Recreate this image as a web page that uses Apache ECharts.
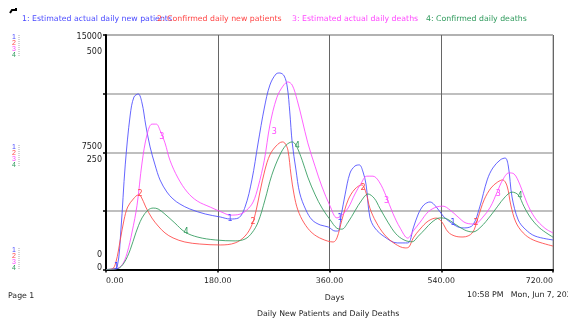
<!DOCTYPE html>
<html>
<head>
<meta charset="utf-8">
<script src="https://cdn.jsdelivr.net/npm/echarts@6/dist/echarts.min.js"></script>
<style>
html, body { margin: 0; padding: 0; background: #fff; }
#chart { width: 568px; height: 320px; }
</style>
</head>
<body>
<div id="chart"></div>
<script>
// series names (legend order)
const seriesNames = [
    "Estimated actual daily new patients",
    "Confirmed daily new patients",
    "Estimated actual daily deaths",
    "Confirmed daily deaths"
];
const colors = ["#4a4aff", "#ff4545", "#ff47ff", "#2f9a5c"];

// x ticks
const dayTicks = [0, 180, 360, 540, 720];
// y labels: patients axis and deaths axis
const patientTicks = [0, 7500, 15000];
const deathTicks = [0, 250, 500];

// 1: Estimated actual daily new patients
const estPatientsDays = [0, 10, 18, 24, 31, 39, 45, 52, 58, 64, 71, 79, 87, 98, 108, 119, 135, 160, 184, 200, 213, 224, 235, 245, 255, 264, 274, 280, 287, 292, 296, 300, 306, 312, 322, 332, 345, 358, 369, 374, 379, 385, 393, 401, 408, 414, 419, 425, 433, 449, 469, 486, 495, 503, 512, 522, 532, 543, 554, 567, 578, 591, 602, 614, 623, 635, 643, 648, 654, 664, 675, 691, 720];
const estPatients = [0, 30, 160, 2530, 6690, 9880, 11030, 11230, 10650, 9240, 7840, 6690, 5730, 4960, 4510, 4190, 3870, 3550, 3360, 3230, 3290, 4000, 5730, 8090, 10330, 11800, 12510, 12570, 12380, 11670, 10080, 8090, 6370, 4890, 3810, 3170, 2850, 2720, 2460, 2460, 3490, 4770, 6170, 6620, 6690, 6240, 5410, 3360, 2660, 2080, 1700, 1700, 2660, 3550, 4130, 4320, 4000, 3420, 3040, 2720, 2660, 2850, 4000, 5730, 6490, 7010, 7130, 6620, 4640, 3170, 2590, 2140, 1890];

// 2: Confirmed daily new patients
const confPatientsDays = [0, 10, 16, 23, 29, 35, 44, 52, 56, 64, 74, 84, 95, 108, 127, 151, 184, 208, 224, 235, 242, 248, 256, 264, 274, 284, 288, 293, 298, 303, 309, 319, 332, 348, 366, 372, 380, 390, 401, 412, 419, 425, 435, 449, 466, 482, 488, 495, 506, 519, 532, 541, 551, 562, 575, 590, 599, 609, 620, 631, 639, 646, 652, 660, 672, 688, 720];
const confPatients = [0, 30, 480, 1890, 3170, 4000, 4510, 4770, 4700, 4000, 3290, 2780, 2340, 2020, 1760, 1630, 1570, 1700, 2140, 2850, 3810, 4960, 6370, 7330, 7900, 8160, 8090, 7640, 6050, 4770, 3810, 2980, 2340, 1950, 1760, 2020, 3170, 4450, 5150, 5410, 4890, 3930, 3040, 2210, 1630, 1380, 1440, 2020, 2590, 3100, 3290, 3040, 2400, 2140, 2080, 2340, 3290, 4450, 5210, 5600, 5730, 5340, 4130, 3040, 2340, 1890, 1500];

// 3: Estimated actual daily deaths
const estDeathsDays = [0, 15, 26, 34, 42, 50, 58, 66, 74, 81, 87, 95, 103, 116, 131, 147, 168, 187, 200, 216, 227, 237, 245, 255, 264, 275, 285, 293, 300, 308, 316, 325, 337, 348, 361, 372, 380, 390, 401, 411, 420, 430, 440, 451, 462, 474, 486, 496, 506, 519, 532, 543, 554, 567, 580, 594, 606, 619, 630, 639, 649, 657, 667, 678, 691, 707, 720];
const estDeaths = [0, 1, 10, 35, 80, 137, 227, 287, 310, 310, 297, 270, 233, 195, 165, 146, 133, 122, 116, 118, 127, 144, 176, 233, 308, 366, 391, 400, 393, 361, 319, 270, 219, 176, 135, 110, 116, 131, 161, 184, 199, 199, 187, 157, 120, 88, 67, 84, 101, 123, 133, 135, 127, 112, 99, 97, 110, 133, 165, 191, 206, 204, 180, 142, 110, 88, 78];

// 4: Confirmed daily deaths
const confDeathsDays = [0, 19, 29, 39, 48, 58, 68, 76, 84, 95, 111, 127, 148, 176, 208, 224, 235, 245, 256, 267, 280, 290, 300, 306, 316, 325, 337, 348, 361, 372, 380, 390, 401, 412, 422, 432, 441, 454, 467, 480, 493, 503, 514, 525, 538, 549, 562, 578, 591, 604, 619, 631, 643, 654, 664, 673, 683, 699, 720];
const confDeaths = [0, 2, 14, 42, 78, 110, 127, 131, 129, 118, 99, 80, 69, 63, 61, 65, 78, 101, 148, 201, 244, 265, 272, 265, 233, 197, 159, 131, 106, 88, 86, 101, 125, 148, 161, 152, 131, 101, 76, 63, 59, 71, 86, 101, 110, 108, 97, 84, 80, 91, 114, 135, 155, 165, 159, 135, 112, 88, 69];

// curve number tags, [day, value]
const estPatientsTags = [[17, 150], [200, 3230], [377, 3290], [559, 2980]];
const confPatientsTags = [[55, 4830], [237, 3040], [414, 5200], [596, 3000]];
const estDeathsTags = [[90, 282], [271, 294], [452, 146], [632, 161]];
const confDeathsTags = [[129, 80], [308, 263], [667, 157]];

const zip = (xs, ys) => xs.map((x, i) => [x, ys[i]]);
const FONT = "DejaVu Sans";

const chart = echarts.init(document.getElementById("chart"));

function makeSeries(idx, days, values, tags, yAxisIndex) {
    return {
        name: seriesNames[idx],
        type: "line",
        yAxisIndex: yAxisIndex,
        data: zip(days, values),
        smooth: 0.35,
        symbol: "none",
        lineStyle: { width: 1, color: colors[idx], opacity: 0.85 },
        itemStyle: { color: colors[idx] },
        animation: false,
        markPoint: {
            symbol: "circle",
            symbolSize: 0,
            label: {
                show: true,
                position: "inside",
                formatter: String(idx + 1),
                color: colors[idx],
                fontSize: 8,
                fontFamily: FONT
            },
            data: tags.map(t => ({ coord: t }))
        }
    };
}

const legendLeft = [12, 147, 282, 416];
const legendList = seriesNames.map((name, idx) => ({
    data: [{ name: name, icon: "rect" }],
    left: legendLeft[idx],
    top: 10,
    itemWidth: 0,
    itemHeight: 0,
    selectedMode: false,
    formatter: n => (idx + 1) + ": " + n,
    textStyle: { color: colors[idx], fontSize: 7.8, fontFamily: FONT }
}));

// shift (px) for left labels so they sit as in the original
const patientPad = { 0: [0, 0, 29, 0], 7500: [0, 0, 11, 0], 15000: [4, 0, 0, 0] };
const deathPad = { 0: [0, 0, 3, 0], 250: [15, 0, 0, 0], 500: [34, 0, 0, 0] };

function markerGroup(top) {
    return [
        {
            type: "text",
            left: 12,
            top: top,
            style: {
                text: "{a|1}\n{b|2}\n{c|3}\n{d|4}",
                fontSize: 7,
                fontFamily: FONT,
                fontWeight: "bold",
                lineHeight: 6,
                rich: {
                    a: { fill: colors[0], fontSize: 7, lineHeight: 6 },
                    b: { fill: colors[1], fontSize: 7, lineHeight: 6 },
                    c: { fill: colors[2], fontSize: 7, lineHeight: 6 },
                    d: { fill: colors[3], fontSize: 7, lineHeight: 6 }
                }
            }
        },
        {
            type: "line",
            shape: { x1: 19, y1: top + 1, x2: 19, y2: top + 23 },
            style: { stroke: "#aaa", lineWidth: 1, lineDash: [1, 1] }
        }
    ];
}

const option = {
    animation: false,
    backgroundColor: "#fff",
    color: colors,
    textStyle: { fontFamily: FONT },
    title: {
        text: "Daily New Patients and Daily Deaths",
        left: 252,
        top: 305,
        textStyle: { fontSize: 7.8, fontWeight: "normal", color: "#222", fontFamily: FONT }
    },
    legend: legendList,
    grid: {
        left: 106,
        right: 15,
        top: 35,
        bottom: 50.5,
        show: true,
        borderColor: "#999",
        borderWidth: 1
    },
    xAxis: {
        type: "value",
        min: 0,
        max: 720,
        interval: 180,
        name: "Days",
        nameLocation: "middle",
        nameGap: 24,
        nameTextStyle: { fontSize: 7.8, color: "#222", fontFamily: FONT, padding: [0, 0, 0, 10] },
        axisLine: { lineStyle: { color: "#000", width: 2 } },
        axisTick: { show: true, length: 3, lineStyle: { color: "#000", width: 1.5 } },
        axisLabel: {
            fontSize: 7.8,
            color: "#222",
            margin: 7,
            fontFamily: FONT,
            alignMinLabel: "left",
            alignMaxLabel: "right",
            formatter: v => dayTicks.includes(v) ? v.toFixed(2) : ""
        },
        splitLine: { show: true, lineStyle: { color: "#666", width: 1 } }
    },
    yAxis: [
        {
            type: "value",
            min: 0,
            max: 15000,
            interval: 3750,
            position: "left",
            axisLine: { show: true, lineStyle: { color: "#000", width: 2 } },
            axisTick: { show: true, length: 3, lineStyle: { color: "#000", width: 1.5 } },
            axisLabel: {
                margin: 4,
                fontSize: 8,
                color: "#222",
                fontFamily: FONT,
                formatter: v => patientTicks.includes(v) ? "{p" + v + "|" + v + "}" : "",
                rich: {
                    p0: { padding: patientPad[0], fontSize: 8 },
                    p7500: { padding: patientPad[7500], fontSize: 8 },
                    p15000: { padding: patientPad[15000], fontSize: 8 }
                }
            },
            splitLine: { show: true, lineStyle: { color: "#aaa", width: 1.5 } }
        },
        {
            type: "value",
            min: 0,
            max: 500,
            interval: 125,
            position: "left",
            axisLine: { show: false },
            axisTick: { show: false },
            axisLabel: {
                margin: 4,
                fontSize: 8,
                color: "#222",
                fontFamily: FONT,
                formatter: v => deathTicks.includes(v) ? "{d" + v + "|" + v + "}" : "",
                rich: {
                    d0: { padding: deathPad[0], fontSize: 8 },
                    d250: { padding: deathPad[250], fontSize: 8 },
                    d500: { padding: deathPad[500], fontSize: 8 }
                }
            },
            splitLine: { show: false }
        }
    ],
    graphic: [
        {
            type: "polyline",
            shape: { points: [[10, 13], [12, 10], [16, 10], [16, 8]] },
            style: { stroke: "#000", lineWidth: 2, fill: null }
        },
        ...markerGroup(34),
        ...markerGroup(144),
        ...markerGroup(247),
        {
            type: "text",
            left: 8,
            top: 292,
            style: { text: "Page 1", fontSize: 7.8, fontFamily: FONT, fill: "#222" }
        },
        {
            type: "text",
            left: 467,
            top: 291,
            style: { text: "10:58 PM   Mon, Jun 7, 2021", fontSize: 7.8, fontFamily: FONT, fill: "#222" }
        }
    ],
    series: [
        makeSeries(0, estPatientsDays, estPatients, estPatientsTags, 0),
        makeSeries(1, confPatientsDays, confPatients, confPatientsTags, 0),
        makeSeries(2, estDeathsDays, estDeaths, estDeathsTags, 1),
        makeSeries(3, confDeathsDays, confDeaths, confDeathsTags, 1)
    ]
};

chart.setOption(option);
</script>
</body>
</html>
